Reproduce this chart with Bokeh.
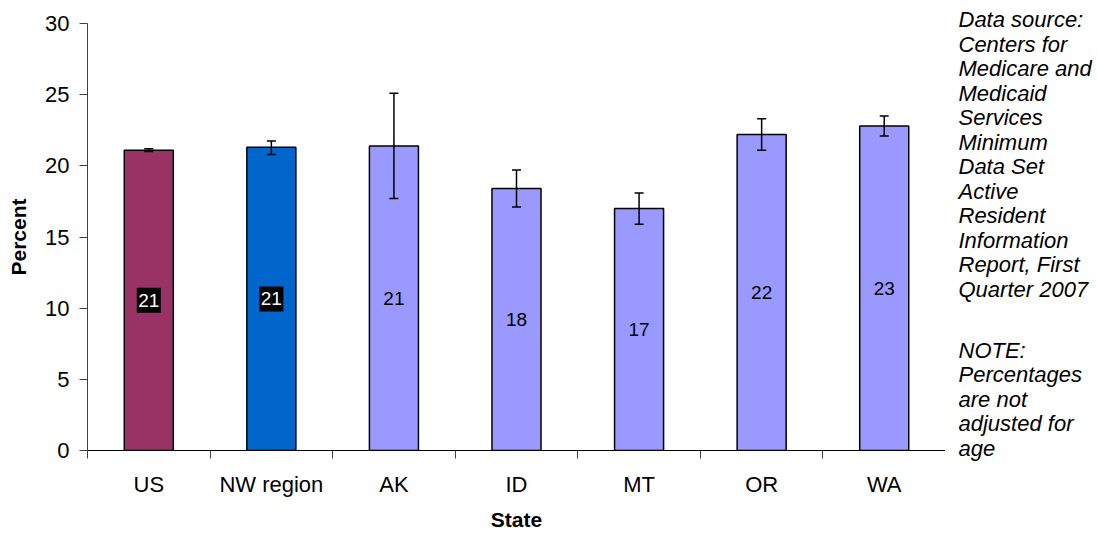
from bokeh.plotting import figure
from bokeh.models import ColumnDataSource, Whisker, FixedTicker, Range1d
from bokeh.layouts import row
from bokeh.core.properties import value
from bokeh.embed import file_html
from bokeh.resources import INLINE

categories = ["US", "NW region", "AK", "ID", "MT", "OR", "WA"]
values = [21.1, 21.3, 21.4, 18.4, 17.0, 22.2, 22.8]
lower = [21.0, 20.8, 17.7, 17.1, 15.9, 21.1, 22.1]
upper = [21.2, 21.75, 25.1, 19.7, 18.1, 23.3, 23.5]
labels = ["21", "21", "21", "18", "17", "22", "23"]
colors = ["#993366", "#0066CC", "#9999FF", "#9999FF", "#9999FF", "#9999FF", "#9999FF"]
label_colors = ["white", "white", "black", "black", "black", "black", "black"]
label_boxed = [True, True, False, False, False, False, False]
y_ticks = [0, 5, 10, 15, 20, 25, 30]
source_lines = ["Data source:", "Centers for", "Medicare and", "Medicaid", "Services",
                "Minimum", "Data Set", "Active", "Resident", "Information",
                "Report, First", "Quarter 2007"]
note_lines = ["NOTE:", "Percentages", "are not", "adjusted for", "age"]

FONT = "Liberation Sans"
xs = [i + 0.5 for i in range(len(categories))]
mids = [v / 2 for v in values]

src = ColumnDataSource(dict(x=xs, top=values, lower=lower, upper=upper,
                            color=colors, label=labels, mid=mids, tcolor=label_colors))
box_src = ColumnDataSource(dict(x=[x for x, b in zip(xs, label_boxed) if b],
                                mid=[m for m, b in zip(mids, label_boxed) if b]))

p = figure(width=945, height=533, output_backend="svg", toolbar_location=None,
           x_range=Range1d(0, len(categories)), y_range=Range1d(0, 30),
           min_border_left=87, min_border_right=0, min_border_top=23, min_border_bottom=82)
p.frame_align = False
p.outline_line_color = None
p.grid.visible = False

p.vbar(x="x", top="top", bottom=0, width=0.4, source=src, fill_color="color",
       line_color="black", line_width=1.5)

w = Whisker(base="x", lower="lower", upper="upper", source=src, line_color="black",
            line_width=1.5, level="overlay")
w.upper_head.size = 9
w.lower_head.size = 9
w.upper_head.line_width = 1.5
w.lower_head.line_width = 1.5
p.add_layout(w)

p.rect(x="x", y="mid", width=24, height=25, width_units="screen", height_units="screen",
       source=box_src, fill_color="black", line_color=None)
p.text(x="x", y="mid", text="label", source=src, text_align="center",
       text_baseline="middle", text_color="tcolor", text_font=value(FONT),
       text_font_size="19px")

# axes
p.yaxis.ticker = FixedTicker(ticks=y_ticks)
p.yaxis.minor_tick_line_color = None
p.yaxis.major_tick_in = 0
p.yaxis.major_tick_out = 8
p.yaxis.major_label_text_font = FONT
p.yaxis.major_label_text_font_size = "22px"
p.yaxis.major_label_text_color = "black"
p.yaxis.axis_label = "Percent"
p.yaxis.axis_label_text_font = FONT
p.yaxis.axis_label_text_font_style = "bold"
p.yaxis.axis_label_text_font_size = "21px"
p.yaxis.axis_label_text_color = "black"
p.yaxis.axis_label_standoff = 12
p.yaxis.major_label_standoff = 10
p.yaxis.axis_line_color = "#404040"
p.yaxis.major_tick_line_color = "#404040"

p.xaxis.ticker = FixedTicker(ticks=xs, minor_ticks=list(range(len(categories) + 1)))
p.xaxis.major_label_overrides = {x: c for x, c in zip(xs, categories)}
p.xaxis.major_tick_in = 0
p.xaxis.major_tick_out = 0
p.xaxis.minor_tick_in = 0
p.xaxis.minor_tick_out = 8
p.xaxis.minor_tick_line_color = "#404040"
p.xaxis.axis_line_color = "black"
p.xaxis.major_label_text_font = FONT
p.xaxis.major_label_text_font_size = "22px"
p.xaxis.major_label_text_color = "black"
p.xaxis.major_label_standoff = 13
p.xaxis.axis_label = "State"
p.xaxis.axis_label_text_font = FONT
p.xaxis.axis_label_text_font_style = "bold"
p.xaxis.axis_label_text_font_size = "21px"
p.xaxis.axis_label_text_color = "black"
p.xaxis.axis_label_standoff = 8

# side note panel, in pixel coordinates
rows_y = [19 + 24.5 * i for i in range(len(source_lines))] + \
         [19 + 24.5 * (len(source_lines) + 1.5 + i) for i in range(len(note_lines))]
note_src = ColumnDataSource(dict(x=[13] * len(rows_y), y=rows_y,
                                 text=source_lines + note_lines))
p2 = figure(width=152, height=533, output_backend="svg", toolbar_location=None,
            x_range=Range1d(0, 152), y_range=Range1d(533, 0),
            x_axis_location=None, y_axis_location=None,
            min_border_left=0, min_border_right=0, min_border_top=0, min_border_bottom=0)
p2.frame_align = False
p2.outline_line_color = None
p2.grid.visible = False
p2.text(x="x", y="y", text="text", source=note_src, text_font=value(FONT),
        text_font_size="22px", text_font_style="italic", text_baseline="alphabetic",
        text_align="left", text_color="black")

layout = row(p, p2, spacing=0)
open("out.html", "w").write(file_html(layout, INLINE))
